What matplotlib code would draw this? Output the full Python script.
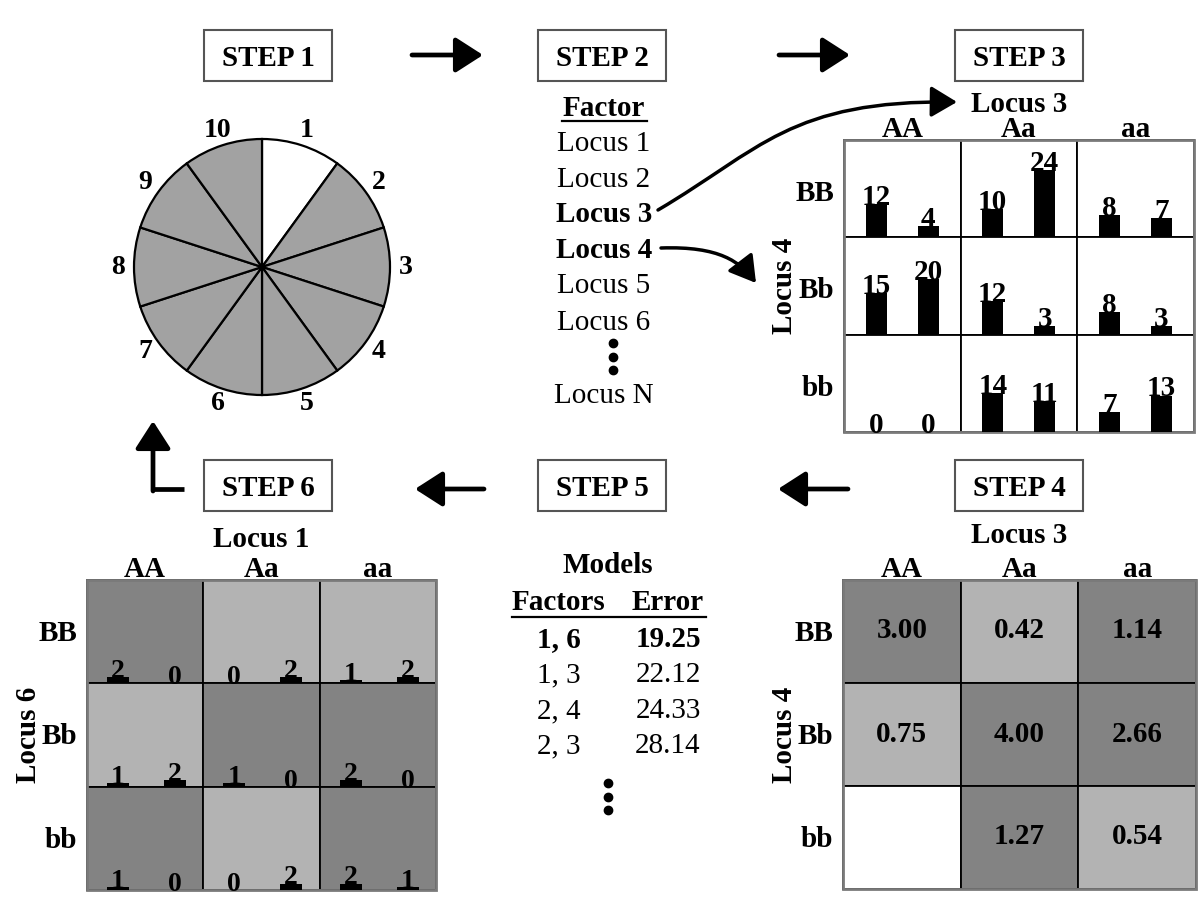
import matplotlib
matplotlib.use('Agg')
import matplotlib.pyplot as plt
from matplotlib.patches import Rectangle, FancyArrowPatch
from matplotlib.path import Path
import numpy as np

plt.rcParams['font.family'] = ['Liberation Serif', 'DejaVu Serif']

# ---------------- data ----------------
step_labels = ['STEP 1', 'STEP 2', 'STEP 3', 'STEP 4', 'STEP 5', 'STEP 6']

folds = ['1', '2', '3', '4', '5', '6', '7', '8', '9', '10']
fold_sizes = [1, 1, 1, 1, 1, 1, 1, 1, 1, 1]
test_fold = '1'

factor_list = ['Locus 1', 'Locus 2', 'Locus 3', 'Locus 4', 'Locus 5', 'Locus 6', 'Locus N']
selected_factors = ['Locus 3', 'Locus 4']

col_genotypes = ['AA', 'Aa', 'aa']
row_genotypes = ['BB', 'Bb', 'bb']

# Step 3: Locus 3 x Locus 4 (cases, controls)
cases_34 = [[12, 10, 8], [15, 12, 8], [0, 14, 7]]
controls_34 = [[4, 24, 7], [20, 3, 3], [0, 11, 13]]

# Step 4: ratios and risk classes
ratio_34 = [['3.00', '0.42', '1.14'], ['0.75', '4.00', '2.66'], ['', '1.27', '0.54']]
risk_34 = [['high', 'low', 'high'], ['low', 'high', 'high'], ['none', 'high', 'low']]

# Step 5: models
model_factors = ['1, 6', '1, 3', '2, 4', '2, 3']
model_errors = ['19.25', '22.12', '24.33', '28.14']

# Step 6: Locus 1 x Locus 6 (cases, controls)
cases_16 = [[2, 0, 1], [1, 1, 2], [1, 0, 2]]
controls_16 = [[0, 2, 2], [2, 0, 0], [0, 2, 1]]
risk_16 = [['high', 'low', 'low'], ['low', 'high', 'high'], ['high', 'low', 'high']]

# ---------------- style ----------------
DARK = '#838383'
LIGHT = '#b3b3b3'
PIE_GRAY = '#a2a2a2'
risk_color = {'high': DARK, 'low': LIGHT, 'none': 'white'}
FS = 21

fig = plt.figure(figsize=(12, 9), dpi=100)
ax = fig.add_axes([0, 0, 1, 1])

# ---------------- STEP boxes ----------------
box_pos = {'STEP 1': (204, 30), 'STEP 2': (538, 30), 'STEP 3': (955, 30),
           'STEP 4': (955, 460), 'STEP 5': (538, 460), 'STEP 6': (204, 460)}
BW, BH = 128, 51
for lab in step_labels:
    x, y = box_pos[lab]
    ax.add_patch(Rectangle((x, y), BW, BH, fill=False, edgecolor='#555555', lw=1.5))
    ax.text(x + BW / 2, y + BH / 2 + 10, lab, ha='center', va='baseline',
            fontsize=FS, fontweight='bold')

def straight_arrow(tail, tip, lw=3.4):
    ax.annotate('', xy=tip, xytext=tail,
                arrowprops=dict(arrowstyle='-|>,head_length=0.42,head_width=0.27',
                                mutation_scale=40, lw=lw, color='black',
                                shrinkA=0, shrinkB=0))

straight_arrow((412, 55), (483, 55))
straight_arrow((779, 55), (850, 55))
straight_arrow((484, 489), (415, 489))
straight_arrow((848, 489), (778, 489))
ax.plot([184, 153], [489, 489], color='black', lw=3.4, solid_capstyle='butt')
straight_arrow((153, 491), (153, 421))

# ---------------- STEP 1: pie ----------------
pie_cx, pie_cy, pie_r = 262, 267, 128
pie_colors = ['white' if f == test_fold else PIE_GRAY for f in folds]
ax.pie(fold_sizes, colors=pie_colors, center=(pie_cx, pie_cy), radius=pie_r,
       startangle=-90, counterclock=True,
       wedgeprops=dict(edgecolor='black', linewidth=1.6))
cum = np.cumsum([0] + fold_sizes)
tot = float(sum(fold_sizes))
for i, f in enumerate(folds):
    mid = (cum[i] + cum[i + 1]) / 2 / tot * 2 * np.pi
    lx = pie_cx + 144 * np.sin(mid)
    ly = pie_cy - 144 * np.cos(mid)
    ax.text(lx, ly, f, ha='center', va='center', fontsize=20, fontweight='bold')

# ---------------- STEP 2: factor list ----------------
ax.text(604, 116, 'Factor', ha='center', va='baseline', fontsize=FS, fontweight='bold')
ax.plot([562, 647], [121, 121], color='black', lw=1.6)
factor_base = [151, 187, 222, 258, 293, 330, 403]
for name, yb in zip(factor_list, factor_base):
    ax.text(604, yb, name, ha='center', va='baseline', fontsize=FS,
            fontweight='bold' if name in selected_factors else 'normal')
ax.plot([613, 613, 613], [343, 357, 370], 'o', color='black', markersize=6)

# curved arrows from Locus 3 / Locus 4
p1 = Path([(658, 210), (760, 150), (790, 100), (957, 102)],
          [Path.MOVETO, Path.CURVE4, Path.CURVE4, Path.CURVE4])
ax.add_patch(FancyArrowPatch(path=p1, arrowstyle='-|>,head_length=0.42,head_width=0.25',
                             mutation_scale=38, lw=2.5, color='black'))
p2 = Path([(661, 248), (720, 246), (740, 262), (756, 283)],
          [Path.MOVETO, Path.CURVE4, Path.CURVE4, Path.CURVE4])
ax.add_patch(FancyArrowPatch(path=p2, arrowstyle='-|>,head_length=0.42,head_width=0.25',
                             mutation_scale=38, lw=2.5, color='black'))

# ---------------- grid helper ----------------
def draw_grid(x0, y0, cw, ch, fills, title, title_base, row_title):
    for r in range(3):
        for c in range(3):
            ax.add_patch(Rectangle((x0 + c * cw, y0 + r * ch), cw, ch,
                                   facecolor=fills[r][c], edgecolor='black', lw=1.3))
    ax.add_patch(Rectangle((x0, y0), 3 * cw, 3 * ch, fill=False,
                           edgecolor='#7a7a7a', lw=2.0))
    for c, g in enumerate(col_genotypes):
        ax.text(x0 + (c + 0.5) * cw, y0 - 3, g, ha='center', va='baseline',
                fontsize=FS, fontweight='bold')
    for r, g in enumerate(row_genotypes):
        ax.text(x0 - 10, y0 + r * ch + 61, g, ha='right', va='baseline',
                fontsize=FS, fontweight='bold')
    ax.text(x0 + 1.5 * cw, title_base, title, ha='center', va='baseline',
            fontsize=FS, fontweight='bold')
    ax.text(x0 - 59, y0 + 1.5 * ch, row_title, ha='center', va='center',
            rotation=90, fontsize=FS, fontweight='bold')

def draw_bars(x0, y0, cw, ch, cases, controls, scale, width, offs, fs):
    for r in range(3):
        base = y0 + (r + 1) * ch
        for c in range(3):
            for k, vals in enumerate((cases, controls)):
                v = vals[r][c]
                xc = x0 + c * cw + offs[k]
                ax.bar(xc, -v * scale, bottom=base, width=width, color='black',
                       edgecolor='none')
                ax.text(xc, base - v * scale + 1, str(v), ha='center', va='baseline',
                        fontsize=fs, fontweight='bold')

# ---------------- STEP 3 ----------------
x3, y3, cw3, ch3 = 844, 140, 116.7, 97.3
draw_grid(x3, y3, cw3, ch3, [['white'] * 3] * 3, 'Locus 3', 112, 'Locus 4')
draw_bars(x3, y3, cw3, ch3, cases_34, controls_34, 2.8, 21, (32, 84), FS)

# ---------------- STEP 4 ----------------
x4, y4, cw4, ch4 = 843, 580, 117.7, 103
fills4 = [[risk_color[v] for v in row] for row in risk_34]
draw_grid(x4, y4, cw4, ch4, fills4, 'Locus 3', 543, 'Locus 4')
for r in range(3):
    for c in range(3):
        ax.text(x4 + (c + 0.5) * cw4, y4 + (r + 0.5) * ch4 + 7, ratio_34[r][c],
                ha='center', va='baseline', fontsize=FS, fontweight='bold')

# ---------------- STEP 5 ----------------
ax.text(608, 573, 'Models', ha='center', va='baseline', fontsize=FS, fontweight='bold')
ax.text(558, 610, 'Factors', ha='center', va='baseline', fontsize=FS, fontweight='bold')
ax.text(668, 610, 'Error', ha='center', va='baseline', fontsize=FS, fontweight='bold')
ax.plot([512, 706], [617, 617], color='black', lw=1.6)
model_base = [647, 682, 718, 753]
for i, (f, e, yb) in enumerate(zip(model_factors, model_errors, model_base)):
    w = 'bold' if i == 0 else 'normal'
    ax.text(559, yb, f, ha='center', va='baseline', fontsize=FS, fontweight=w)
    ax.text(668, yb, e, ha='center', va='baseline', fontsize=FS, fontweight=w)
ax.plot([608, 608, 608], [783, 797, 810], 'o', color='black', markersize=6)

# ---------------- STEP 6 ----------------
x6, y6, cw6, ch6 = 87, 580, 116.3, 103.3
fills6 = [[risk_color[v] for v in row] for row in risk_16]
draw_grid(x6, y6, cw6, ch6, fills6, 'Locus 1', 547, 'Locus 6')
draw_bars(x6, y6, cw6, ch6, cases_16, controls_16, 3.2, 22, (31, 88), 20)

ax.set_xlim(0, 1200)
ax.set_ylim(900, 0)
ax.set_aspect('auto')
ax.axis('off')
fig.savefig('out.png', dpi=100)
